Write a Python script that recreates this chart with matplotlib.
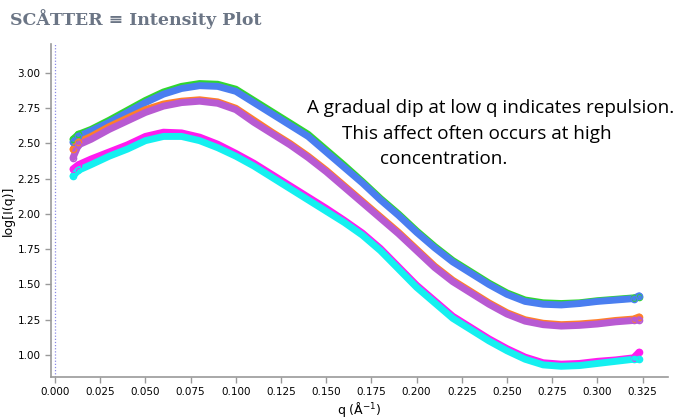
import matplotlib
matplotlib.use('Agg')
import matplotlib.pyplot as plt

# q values (1/A)
q = [0.010, 0.013, 0.020, 0.030, 0.040, 0.050, 0.060, 0.070, 0.080, 0.090,
     0.100, 0.110, 0.120, 0.130, 0.140, 0.150, 0.160, 0.170, 0.180, 0.190,
     0.200, 0.210, 0.220, 0.230, 0.240, 0.250, 0.260, 0.270, 0.280, 0.290,
     0.300, 0.310, 0.320, 0.323]

# log[I(q)] per sample
green = [2.53, 2.565, 2.60, 2.665, 2.735, 2.805, 2.865, 2.905, 2.925, 2.92,
         2.885, 2.805, 2.725, 2.645, 2.565, 2.455, 2.345, 2.23, 2.11, 2.00,
         1.88, 1.77, 1.67, 1.59, 1.51, 1.44, 1.39, 1.37, 1.365, 1.37,
         1.385, 1.395, 1.405, 1.41]
blue = [2.51, 2.55, 2.59, 2.65, 2.72, 2.79, 2.85, 2.89, 2.91, 2.905,
        2.87, 2.79, 2.71, 2.63, 2.55, 2.44, 2.33, 2.22, 2.10, 1.99,
        1.87, 1.76, 1.66, 1.58, 1.50, 1.43, 1.38, 1.36, 1.355, 1.365,
        1.38, 1.39, 1.40, 1.42]
orange = [2.46, 2.51, 2.55, 2.62, 2.68, 2.74, 2.78, 2.80, 2.81, 2.795,
          2.75, 2.665, 2.58, 2.50, 2.41, 2.31, 2.20, 2.09, 1.98, 1.87,
          1.75, 1.63, 1.53, 1.45, 1.37, 1.30, 1.25, 1.225, 1.215, 1.22,
          1.23, 1.245, 1.255, 1.27]
purple = [2.40, 2.49, 2.53, 2.60, 2.66, 2.72, 2.765, 2.79, 2.80, 2.785,
          2.74, 2.65, 2.57, 2.49, 2.40, 2.30, 2.19, 2.08, 1.97, 1.86,
          1.74, 1.62, 1.52, 1.44, 1.36, 1.29, 1.24, 1.215, 1.205, 1.21,
          1.22, 1.235, 1.245, 1.25]
magenta = [2.32, 2.35, 2.39, 2.44, 2.49, 2.55, 2.58, 2.575, 2.545, 2.495,
           2.43, 2.36, 2.28, 2.20, 2.12, 2.04, 1.955, 1.865, 1.755, 1.625,
           1.495, 1.385, 1.275, 1.195, 1.115, 1.045, 0.985, 0.945, 0.935, 0.94,
           0.955, 0.965, 0.98, 1.02]
cyan = [2.27, 2.31, 2.35, 2.41, 2.46, 2.52, 2.55, 2.55, 2.52, 2.47,
        2.41, 2.34, 2.26, 2.18, 2.10, 2.02, 1.94, 1.85, 1.74, 1.61,
        1.48, 1.37, 1.26, 1.18, 1.10, 1.03, 0.97, 0.93, 0.92, 0.925,
        0.94, 0.955, 0.97, 0.97]

series = [(green, '#2fd62f'), (blue, '#4a7ef0'),
          (orange, '#ff7f2a'), (purple, '#b85ad2'),
          (magenta, '#ff1cf0'), (cyan, '#14f0f0')]

fig = plt.figure(figsize=(6.8, 4.2), dpi=100)
ax = fig.add_axes([0.075, 0.1024, 0.907, 0.793])

for vals, col in series:
    ax.plot(q, vals, color=col, lw=5, solid_capstyle='round',
            solid_joinstyle='round', zorder=2)
    # open circles only show at the ends of each band
    ax.plot(q, vals, 'o', ms=4.5, mfc='none', mec=col, mew=1, zorder=3,
            markevery=[0, 1, len(q) - 2, len(q) - 1])

ax.axvline(0, color='#8a8ae6', lw=0.9, ls=(0, (1, 1.5)), zorder=1)

ax.set_xlim(-0.0022, 0.3389)
ax.set_ylim(0.844, 3.206)
ax.set_xticks([0.000, 0.025, 0.050, 0.075, 0.100, 0.125, 0.150, 0.175,
               0.200, 0.225, 0.250, 0.275, 0.300, 0.325])
ax.set_yticks([1.00, 1.25, 1.50, 1.75, 2.00, 2.25, 2.50, 2.75, 3.00])
ax.xaxis.set_major_formatter(matplotlib.ticker.FormatStrFormatter('%.3f'))
ax.yaxis.set_major_formatter(matplotlib.ticker.FormatStrFormatter('%.2f'))

for s in ['top', 'right']:
    ax.spines[s].set_visible(False)
for s in ['left', 'bottom']:
    ax.spines[s].set_color('#9a9a9a')
    ax.spines[s].set_linewidth(1.2)
ax.tick_params(colors='#9a9a9a', labelcolor='black', labelsize=7.5,
               length=4, width=1)

ax.set_xlabel('q (Å$^{-1}$)', fontsize=9, labelpad=2)
ax.set_ylabel('log[I(q)]', fontsize=9)
ax.yaxis.set_label_coords(-0.058, 0.5)

fig.text(0.015, 0.955, 'SCÅTTER ≡ Intensity Plot', family='DejaVu Serif',
         fontweight='bold', fontsize=12.5, color='#6b7585', va='center')

note = dict(fontsize=13.6, family='Open Sans', color='black', va='center',
            transform=fig.transFigure)
fig.text(307 / 680, 1 - 108 / 420, 'A gradual dip at low q indicates repulsion.', **note)
fig.text(342 / 680, 1 - 134 / 420, 'This affect often occurs at high', **note)
fig.text(380 / 680, 1 - 159 / 420, 'concentration.', **note)

fig.savefig('out.png', dpi=100)
